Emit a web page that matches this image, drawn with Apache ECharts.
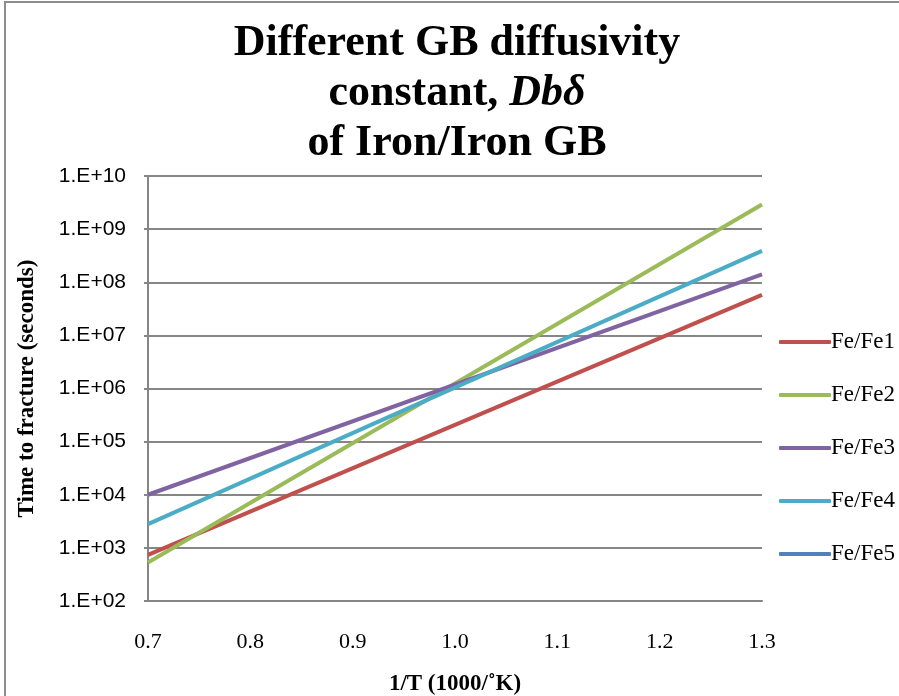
<!DOCTYPE html>
<html>
<head>
<meta charset="utf-8">
<script src="https://cdn.jsdelivr.net/npm/echarts@6/dist/echarts.min.js"></script>
<style>
  html, body { margin: 0; padding: 0; background: #fff; }
  #frame {
    position: absolute; left: 4px; top: 1px; width: 1000px; height: 1000px;
    border-left: 2px solid #8c8c8c; border-top: 2px solid #8c8c8c;
  }
  #chart { position: absolute; left: 0; top: 0; width: 899px; height: 696px; }
</style>
</head>
<body>
<div id="frame"></div>
<div id="chart"></div>
<script>
// 1/T endpoints and time to fracture (seconds)
const xValues = [0.7, 1.3];
const feFe1 = [740, 5.8e7];
const feFe2 = [530, 2.9e9];
const feFe3 = [1.0e4, 1.4e8];
const feFe4 = [2.8e3, 3.9e8];
const feFe5 = [];
const seriesNames = ["Fe/Fe1", "Fe/Fe2", "Fe/Fe3", "Fe/Fe4", "Fe/Fe5"];
const colors = ["#c0504d", "#9bbb59", "#8064a2", "#4bacc6", "#4f81bd"];

const chart = echarts.init(document.getElementById("chart"));

function pairs(ys) {
  return ys.map((y, i) => [xValues[i], y]);
}

const serif = "'Liberation Serif', 'Times New Roman', serif";
const sans = "'Liberation Sans', Arial, sans-serif";

const series = [feFe1, feFe2, feFe3, feFe4, feFe5].map((ys, i) => ({
  name: seriesNames[i],
  type: "line",
  data: pairs(ys),
  symbol: "none",
  lineStyle: { color: colors[i], width: 4 },
  itemStyle: { color: colors[i] },
  z: 2,
}));

const option = {
  animation: false,
  title: {
    left: 452,
    top: 14,
    textAlign: "center",
    text: "{a|Different GB diffusivity}\n{a|constant, }{i|Dbδ}\n{a|of Iron/Iron GB}",
    textStyle: {
      rich: {
        a: { fontFamily: serif, fontWeight: "bold", fontSize: 44, lineHeight: 50, color: "#000" },
        i: { fontFamily: serif, fontWeight: "bold", fontStyle: "italic", fontSize: 44, lineHeight: 50, color: "#000" },
      },
    },
  },
  legend: {
    orient: "vertical",
    left: 774,
    top: 325,
    itemWidth: 52,
    itemHeight: 4,
    itemGap: 29,
    icon: "roundRect",
    textStyle: { fontFamily: serif, fontSize: 23, color: "#000", lineHeight: 24, padding: [0, 0, 0, -5] },
    data: seriesNames,
  },
  grid: { left: 148, right: 137, top: 176, bottom: 95, outerBoundsMode: "none", containLabel: false },
  xAxis: {
    type: "value",
    min: 0.7,
    max: 1.3,
    interval: 0.1,
    name: "1/T (1000/˚K)",
    nameLocation: "middle",
    nameGap: 72,
    nameTextStyle: { fontFamily: serif, fontWeight: "bold", fontSize: 23, color: "#000" },
    axisLine: { lineStyle: { color: "#868686", width: 2 } },
    axisTick: { show: false },
    splitLine: { show: false },
    axisLabel: {
      margin: 30,
      fontFamily: serif,
      fontSize: 22,
      color: "#000",
      formatter: (v) => v.toFixed(1),
    },
  },
  yAxis: {
    type: "log",
    logBase: 10,
    min: 100,
    max: 1e10,
    name: "Time to fracture (seconds)",
    nameLocation: "middle",
    nameGap: 109,
    nameTextStyle: { fontFamily: serif, fontWeight: "bold", fontSize: 23, color: "#000" },
    axisLine: { show: true, lineStyle: { color: "#868686", width: 2 } },
    axisTick: { show: true, length: 4, lineStyle: { color: "#868686", width: 2 } },
    splitLine: { show: true, lineStyle: { color: "#868686", width: 2 } },
    minorTick: { show: false },
    axisLabel: {
      margin: 22,
      fontFamily: sans,
      fontSize: 21,
      color: "#000",
      formatter: (v) => {
        const e = Math.round(Math.log10(v));
        return "1.E+" + (e < 10 ? "0" + e : e);
      },
    },
  },
  series: series,
};

chart.setOption(option);
</script>
</body>
</html>
